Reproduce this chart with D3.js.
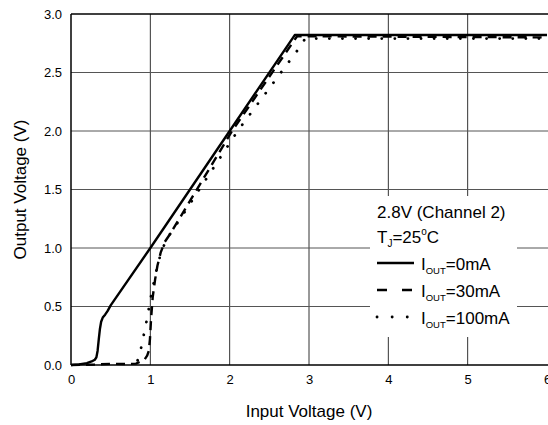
<!DOCTYPE html>
<html>
<head>
<meta charset="utf-8">
<script src="https://cdn.jsdelivr.net/npm/d3@7"></script>
<style>
  html, body { margin: 0; padding: 0; background: #fff; overflow: hidden; }
  svg { display: block; font-family: "Liberation Sans", Arial, sans-serif; }
</style>
</head>
<body>
<svg id="chart" width="548" height="425"></svg>
<script>
// ---- data ----
const xTicks = [0, 1, 2, 3, 4, 5, 6];
const yTicks = [0.0, 0.5, 1.0, 1.5, 2.0, 2.5, 3.0];
const seriesNames = ["0mA", "30mA", "100mA"];

const vin0 =  [0, 0.1, 0.2, 0.26, 0.30, 0.32, 0.335, 0.35, 0.365, 0.38, 0.40, 0.43, 0.46, 0.50, 1.0, 2.0, 2.82, 6.0];
const vout0 = [0, 0.005, 0.015, 0.03, 0.045, 0.065, 0.12, 0.22, 0.31, 0.37, 0.405, 0.43, 0.46, 0.51, 1.0, 2.0, 2.82, 2.82];

const vin30 =  [0, 0.3, 0.5, 0.7, 0.82, 0.88, 0.93, 0.96, 0.98, 0.995, 1.01, 1.03, 1.06, 1.09, 1.13, 1.18, 1.25, 2.03, 2.85, 6.0];
const vout30 = [0, 0.004, 0.01, 0.008, 0.012, 0.03, 0.05, 0.08, 0.12, 0.22, 0.40, 0.58, 0.73, 0.85, 0.96, 1.05, 1.12, 2.0, 2.81, 2.80];

const vin100 =  [0.84, 0.87, 0.90, 0.93, 0.96, 0.985, 1.02, 1.07, 1.13, 1.2, 1.28, 2.1, 2.91, 2.95, 6.0];
const vout100 = [0.04, 0.10, 0.20, 0.30, 0.40, 0.50, 0.63, 0.79, 0.95, 1.07, 1.15, 2.0, 2.74, 2.79, 2.79];

const series = [
  { name: seriesNames[0], x: vin0, y: vout0 },
  { name: seriesNames[1], x: vin30, y: vout30 },
  { name: seriesNames[2], x: vin100, y: vout100 }
];
const styles = [
  { dash: null, width: 2.4, cap: "butt", legendDash: null },
  { dash: "9,6", width: 2.4, cap: "butt", legendDash: "10,15" },
  { dash: "0.1,13", width: 2.8, cap: "round", legendDash: "0.1,15" }
];

// ---- layout ----
const svg = d3.select("#chart");
const L = 71, R = 547, T = 14, B = 365;
const x = d3.scaleLinear().domain([0, 6]).range([L, R]);
const y = d3.scaleLinear().domain([0, 3]).range([B, T]);

// grid
const grid = svg.append("g");
grid.selectAll("line.v").data(xTicks.filter(d => d > 0 && d < 6)).enter().append("line")
  .attr("x1", d => x(d)).attr("x2", d => x(d)).attr("y1", T).attr("y2", B)
  .attr("stroke", "#333").attr("stroke-width", 1);
grid.selectAll("line.h").data(yTicks.filter(d => d > 0 && d < 3)).enter().append("line")
  .attr("x1", L).attr("x2", R + 1).attr("y1", d => y(d)).attr("y2", d => y(d))
  .attr("stroke", "#555").attr("stroke-width", 1);

// axes using d3 axis generator for labels
const xAxis = d3.axisBottom(x).tickValues(xTicks).tickSize(0).tickPadding(10).tickFormat(d3.format("d"));
const gx = svg.append("g").attr("transform", `translate(0,${B})`).call(xAxis);
gx.select(".domain").remove();
gx.selectAll("text").attr("font-size", 13).attr("fill", "#000").attr("font-family", "Liberation Sans, Arial, sans-serif");

const yAxis = d3.axisLeft(y).tickValues(yTicks).tickSize(0).tickPadding(9).tickFormat(d3.format(".1f"));
const gy = svg.append("g").attr("transform", `translate(${L},0)`).call(yAxis);
gy.select(".domain").remove();
gy.selectAll("text").attr("font-size", 13).attr("fill", "#000").attr("font-family", "Liberation Sans, Arial, sans-serif");

// frame: left, bottom, top
svg.append("line").attr("x1", L).attr("x2", L).attr("y1", T).attr("y2", B).attr("stroke", "#000").attr("stroke-width", 1.5);
svg.append("line").attr("x1", L).attr("x2", R + 1).attr("y1", B).attr("y2", B).attr("stroke", "#000").attr("stroke-width", 1.5);
svg.append("line").attr("x1", L).attr("x2", R + 1).attr("y1", T).attr("y2", T).attr("stroke", "#000").attr("stroke-width", 1.5);

// legend background box (covers grid)
svg.append("rect").attr("x", 370).attr("y", 196).attr("width", 147).attr("height", 141).attr("fill", "#fff");

// curves
const line = d3.line().x(d => x(d[0])).y(d => y(d[1])).curve(d3.curveLinear);
series.forEach((s, i) => {
  const pts = s.x.map((v, j) => [v, s.y[j]]);
  const st = styles[i];
  svg.append("path").datum(pts).attr("d", line)
    .attr("fill", "none").attr("stroke", "#000")
    .attr("stroke-width", st.width).attr("stroke-linecap", st.cap)
    .attr("stroke-linejoin", "round")
    .attr("stroke-dasharray", st.dash);
});

// legend text
const fs = 17;
svg.append("text").attr("x", 377).attr("y", 218).attr("font-size", fs).text("2.8V (Channel 2)");
const tj = svg.append("text").attr("x", 377).attr("y", 243).attr("font-size", fs);
tj.append("tspan").text("T");
tj.append("tspan").attr("font-size", 10).attr("dy", 4).text("J");
tj.append("tspan").attr("dy", -4).text("=25");
tj.append("tspan").attr("font-size", 10).attr("dy", -8).text("o");
tj.append("tspan").attr("dy", 8).text("C");

const legY = [263, 290, 317];
series.forEach((s, i) => {
  const st = styles[i];
  svg.append("line").attr("x1", 377).attr("x2", 414).attr("y1", legY[i]).attr("y2", legY[i])
    .attr("stroke", "#000").attr("stroke-width", st.width).attr("stroke-linecap", st.cap)
    .attr("stroke-dasharray", st.legendDash);
  const t = svg.append("text").attr("x", 421).attr("y", legY[i] + 7).attr("font-size", fs);
  t.append("tspan").text("I");
  t.append("tspan").attr("font-size", 9.5).attr("dy", 4).text("OUT");
  t.append("tspan").attr("dy", -4).text("=" + s.name);
});

// axis titles
svg.append("text").attr("x", (L + R) / 2).attr("y", 417).attr("text-anchor", "middle")
  .attr("font-size", fs).text("Input Voltage (V)");
svg.append("text").attr("transform", `translate(26,${(T + B) / 2}) rotate(-90)`)
  .attr("text-anchor", "middle").attr("font-size", fs).text("Output Voltage (V)");
</script>
</body>
</html>
